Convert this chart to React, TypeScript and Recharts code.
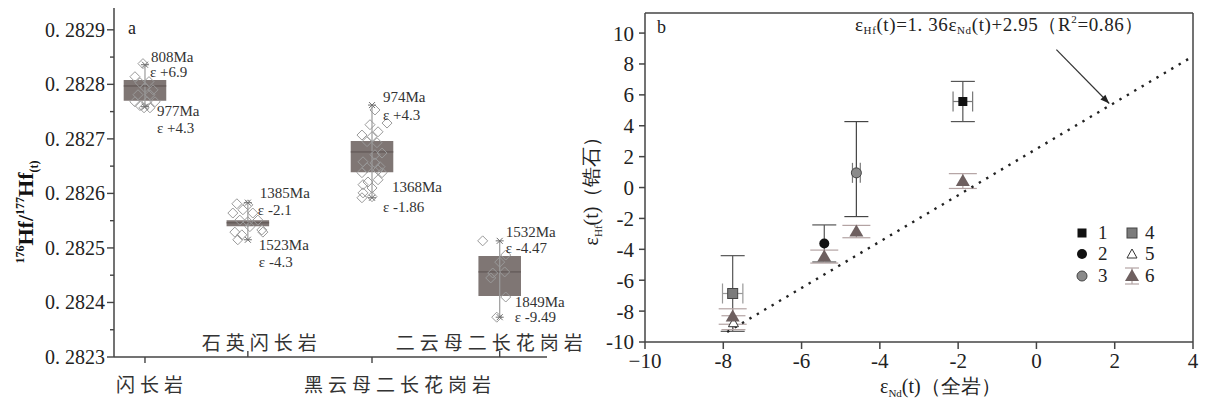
import React from "react";
import {
  ComposedChart,
  Scatter,
  XAxis,
  YAxis,
  ReferenceArea,
  ReferenceLine,
  ErrorBar,
  Legend,
  Customized,
} from "recharts";

const SERIF = "Liberation Serif, serif";
const CJK = "Noto Sans CJK SC, sans-serif";

// ---------- panel a: zircon 176Hf/177Hf(t) by rock type ----------
const rockNames = ["闪长岩", "石英闪长岩", "黑云母二长花岗岩", "二云母二长花岗岩"];
const rockPos = [1, 1.87, 2.92, 4.0];
const boxQ1 = [0.28277, 0.28254, 0.282639, 0.282412];
const boxQ3 = [0.282808, 0.282551, 0.282696, 0.282485];
const boxMedian = [0.282797, 0.282546, 0.282676, 0.282456];
const whiskerLow = [0.282759, 0.282515, 0.282592, 0.282373];
const whiskerHigh = [0.282836, 0.282583, 0.282762, 0.282513];
const ageHigh = ["808Ma", "1385Ma", "974Ma", "1532Ma"];
const epsHigh = ["ε +6.9", "ε -2.1", "ε +4.3", "ε -4.47"];
const ageLow = ["977Ma", "1523Ma", "1368Ma", "1849Ma"];
const epsLow = ["ε +4.3", "ε -4.3", "ε -1.86", "ε -9.49"];
const hfTicks = [
  0.2823, 0.28235, 0.2824, 0.28245, 0.2825, 0.28255, 0.2826, 0.28265, 0.2827,
  0.28275, 0.2828, 0.28285, 0.2829,
];

// single grains [x, 176Hf/177Hf(t)]
const dioriteGrains = [
  [0.983, 0.282838], [0.915, 0.282814], [0.958, 0.282803], [1.034, 0.282805],
  [1.0, 0.282794], [1.068, 0.28279], [0.941, 0.282781], [1.042, 0.282781],
  [1.017, 0.282768], [0.915, 0.282768], [1.085, 0.282768], [0.992, 0.282757],
  [1.042, 0.282757], [0.958, 0.282761],
];
const qtzDioriteGrains = [
  [1.777, 0.282581], [1.87, 0.282579], [1.828, 0.28257], [1.743, 0.282564],
  [1.912, 0.282564], [1.802, 0.282551], [1.955, 0.282551], [1.87, 0.282548],
  [1.887, 0.282539], [1.988, 0.282533], [1.76, 0.282529], [1.819, 0.282524],
  [1.785, 0.282515], [1.997, 0.282529],
];
const bioGraniteGrains = [
  [2.945, 0.282753], [2.903, 0.282726], [3.047, 0.282729], [2.971, 0.282713],
  [2.835, 0.282707], [2.92, 0.282704], [2.878, 0.282695], [2.962, 0.282693],
  [3.005, 0.282674], [2.945, 0.282671], [2.844, 0.282658], [2.945, 0.282656],
  [2.988, 0.282649], [2.878, 0.282647], [2.835, 0.282638], [2.971, 0.282643],
  [3.005, 0.282638], [2.886, 0.282621], [2.971, 0.282625], [2.844, 0.282616],
  [2.92, 0.28261], [2.844, 0.282601], [2.92, 0.282594], [2.835, 0.282592],
];
const twoMicaGrains = [
  [3.856, 0.282513], [4.051, 0.282487], [4.0, 0.282474], [3.941, 0.282454],
  [4.042, 0.282456], [3.924, 0.282445], [4.051, 0.28241], [3.975, 0.282373],
];

// ---------- panel b: eHf(t) vs eNd(t) ----------
const ndTicks = [-10, -8, -6, -4, -2, 0, 2, 4];
const epsHfTicks = [-10, -8, -6, -4, -2, 0, 2, 4, 6, 8, 10];
const group1 = [{ x: -1.88, y: 5.57, ey: 1.3, ex: 0.25 }];
const group2 = [{ x: -5.42, y: -3.62, ey: 1.2 }];
const group3 = [{ x: -4.6, y: 0.95, ey: [2.83, 3.32], ex: 0.1 }];
const group4 = [{ x: -7.76, y: -6.86, ey: 2.45, ex: 0.26 }];
const group5 = [{ x: -7.74, y: -8.75, ey: 0.45 }];
const group6 = [
  { x: -7.76, y: -8.35, ey: 0.5 },
  { x: -5.42, y: -4.47, ey: 0.42 },
  { x: -4.6, y: -2.85, ey: 0.4 },
  { x: -1.88, y: 0.42, ey: 0.48 },
];
const fitLine = [
  { x: -7.9, y: -9.35 },
  { x: 4, y: 8.5 },
];
const arrowLine = [
  { x: 0.51, y: 8.93 },
  { x: 1.86, y: 5.44 },
];

// pixel geometry of panel a (used by hand-drawn ticks)
const A_LEFT = 114;
const A_BOTTOM = 357;
const rockLabelShift = [7, 14, 28, -8];
const annotHigh = [[6, -3, 5, 12], [12, -5, 10, 12], [11, -3, 11, 15], [6, -4, 6, 12]];
const annotLow = [[12, 9, 12, 26], [11, 10, 11, 27], [20, -6, 11, 14], [15, -10, 15, 5]];

const Empty = () => <g />;

function HfTick(props: any) {
  const { y, payload } = props;
  const v = payload.value;
  const major = Math.round(v * 20000) % 2 === 0;
  return (
    <g>
      <line x1={A_LEFT - (major ? 7 : 4)} x2={A_LEFT} y1={y} y2={y} stroke="#444" strokeWidth={1.4} />
      {major && (
        <text x={A_LEFT - 9} y={y} dy={7} textAnchor="end" fontSize={20} fill="#222" style={{ fontFamily: SERIF }}>
          {"0. " + Math.round(v * 10000)}
        </text>
      )}
    </g>
  );
}

function RockTick(props: any) {
  const { x, index } = props;
  const below = index % 2 === 0;
  return (
    <g>
      <line x1={x} x2={x} y1={A_BOTTOM} y2={below ? A_BOTTOM + 6 : A_BOTTOM - 6} stroke="#444" strokeWidth={1.4} />
      <text
        x={x + rockLabelShift[index]}
        y={below ? 392 : 350}
        textAnchor="middle"
        fontSize={19}
        letterSpacing={5}
        fill="#333"
        style={{ fontFamily: CJK }}
      >
        {rockNames[index]}
      </text>
    </g>
  );
}

const Diamond = (p: any) => (
  <polygon
    points={`${p.cx},${p.cy - 5} ${p.cx + 5},${p.cy} ${p.cx},${p.cy + 5} ${p.cx - 5},${p.cy}`}
    fill="none"
    stroke="#9a9a9a"
    strokeWidth={1}
  />
);

const Star = (p: any) => (
  <g stroke="#6f6f6f" strokeWidth={1}>
    <line x1={p.cx - 4} x2={p.cx + 4} y1={p.cy} y2={p.cy} />
    <line x1={p.cx - 3} x2={p.cx + 3} y1={p.cy - 3} y2={p.cy + 3} />
    <line x1={p.cx - 3} x2={p.cx + 3} y1={p.cy + 3} y2={p.cy - 3} />
  </g>
);

const AnnotText = (p: any) => {
  const { i, side } = p.payload;
  const high = side === "high";
  const o = high ? annotHigh[i] : annotLow[i];
  return (
    <g style={{ fontFamily: SERIF }} fontSize={15} fill="#333">
      <text x={p.cx + o[0]} y={p.cy + o[1]}>{high ? ageHigh[i] : ageLow[i]}</text>
      <text x={p.cx + o[2]} y={p.cy + o[3]}>{high ? epsHigh[i] : epsLow[i]}</text>
    </g>
  );
};

function PanelA() {
  const grains = [dioriteGrains, qtzDioriteGrains, bioGraniteGrains, twoMicaGrains];
  const whiskerEnds = rockPos.flatMap((p, i) => [
    { x: p, y: whiskerHigh[i], i, side: "high" },
    { x: p, y: whiskerLow[i], i, side: "low" },
  ]);
  return (
    <ComposedChart width={600} height={403} margin={{ top: 8, right: 53, bottom: 16, left: 54 }}>
      <XAxis
        type="number"
        dataKey="x"
        domain={[0.738, 4.4]}
        ticks={rockPos}
        interval={0}
        tickLine={false}
        axisLine={{ stroke: "#444", strokeWidth: 1.5 }}
        tick={(p: any) => <RockTick {...p} />}
        height={30}
      />
      <YAxis
        type="number"
        dataKey="y"
        domain={[0.2823, 0.28294]}
        ticks={hfTicks}
        interval={0}
        tickLine={false}
        axisLine={{ stroke: "#444", strokeWidth: 1.5 }}
        tick={(p: any) => <HfTick {...p} />}
        width={60}
      />
      {rockPos.map((p, i) => (
        <ReferenceArea
          key={"box" + i}
          x1={p - 0.18}
          x2={p + 0.18}
          y1={boxQ1[i]}
          y2={boxQ3[i]}
          fill="#7f7674"
          fillOpacity={1}
          stroke="none"
          ifOverflow="visible"
        />
      ))}
      {rockPos.map((p, i) => (
        <ReferenceLine
          key={"wh" + i}
          segment={[
            { x: p, y: whiskerLow[i] },
            { x: p, y: whiskerHigh[i] },
          ]}
          stroke="#9b9b9b"
          strokeWidth={1.2}
          ifOverflow="visible"
        />
      ))}
      {grains.map((g, i) => (
        <Scatter
          key={"gr" + i}
          data={g.map(([x, y]) => ({ x, y }))}
          shape={Diamond}
          isAnimationActive={false}
        />
      ))}
      {rockPos.map((p, i) => (
        <ReferenceLine
          key={"md" + i}
          segment={[
            { x: p - 0.18, y: boxMedian[i] },
            { x: p + 0.18, y: boxMedian[i] },
          ]}
          stroke="#5b5250"
          strokeWidth={1}
          ifOverflow="visible"
        />
      ))}
      <Scatter data={whiskerEnds} shape={Star} isAnimationActive={false} />
      <Scatter data={whiskerEnds} shape={AnnotText} isAnimationActive={false} />
      <Customized
        component={() => (
          <g style={{ fontFamily: SERIF }}>
            <text x={128} y={34} fontSize={18} fill="#222">a</text>
            <text
              transform="translate(33,212) rotate(-90)"
              textAnchor="middle"
              fontWeight="bold"
              fontSize={22}
              fill="#111"
            >
              <tspan fontSize={12} dy={-9}>176</tspan>
              <tspan dy={9}>Hf/</tspan>
              <tspan fontSize={12} dy={-9}>177</tspan>
              <tspan dy={9}>Hf</tspan>
              <tspan fontSize={12} dy={5}>(t)</tspan>
            </text>
          </g>
        )}
      />
    </ComposedChart>
  );
}

// ---------- panel b markers ----------
const BlackSquare = (p: any) => <rect x={p.cx - 4.5} y={p.cy - 4.5} width={9} height={9} fill="#111" />;
const BlackCircle = (p: any) => <circle cx={p.cx} cy={p.cy} r={5} fill="#111" />;
const GreyCircle = (p: any) => <circle cx={p.cx} cy={p.cy} r={5} fill="#8a8a8a" stroke="#444" strokeWidth={1} />;
const GreySquare = (p: any) => (
  <rect x={p.cx - 5} y={p.cy - 5} width={10} height={10} fill="#7b7b7b" stroke="#444" strokeWidth={1} />
);
const OpenTriangle = (p: any) => (
  <polygon
    points={`${p.cx},${p.cy - 5} ${p.cx - 5},${p.cy + 4} ${p.cx + 5},${p.cy + 4}`}
    fill="#fff"
    stroke="#333"
    strokeWidth={1}
  />
);
const FilledTriangle = (p: any) => (
  <polygon
    points={`${p.cx},${p.cy - 7} ${p.cx - 7},${p.cy + 5} ${p.cx + 7},${p.cy + 5}`}
    fill="#6e6060"
  />
);
const ArrowHead = (p: any) => {
  const ang = (45.5 * Math.PI) / 180;
  const dx = Math.cos(ang);
  const dy = Math.sin(ang);
  const L = 9;
  const W = 3.5;
  const bx = p.cx - L * dx;
  const by = p.cy - L * dy;
  return (
    <polygon
      points={`${p.cx},${p.cy} ${bx - W * dy},${by + W * dx} ${bx + W * dy},${by - W * dx}`}
      fill="#222"
    />
  );
};

function LegendBox() {
  const rows = [13, 34, 56];
  return (
    <svg width={110} height={70} style={{ overflow: "visible" }}>
      <g style={{ fontFamily: SERIF }} fontSize={19} fill="#222">
        <BlackSquare cx={8} cy={rows[0]} />
        <BlackCircle cx={8} cy={rows[1]} />
        <GreyCircle cx={8} cy={rows[2]} />
        <text x={24} y={rows[0] + 6}>1</text>
        <text x={24} y={rows[1] + 6}>2</text>
        <text x={24} y={rows[2] + 6}>3</text>
        <GreySquare cx={58} cy={rows[0]} />
        <OpenTriangle cx={58} cy={rows[1]} />
        <g stroke="#b3a3a3" strokeWidth={1.2}>
          <line x1={51} x2={65} y1={rows[2] - 8} y2={rows[2] - 8} />
          <line x1={51} x2={65} y1={rows[2] + 8} y2={rows[2] + 8} />
          <line x1={58} x2={58} y1={rows[2] - 8} y2={rows[2] + 8} />
        </g>
        <FilledTriangle cx={58} cy={rows[2]} />
        <text x={71} y={rows[0] + 6}>4</text>
        <text x={71} y={rows[1] + 6}>5</text>
        <text x={71} y={rows[2] + 6}>6</text>
      </g>
    </svg>
  );
}

function PanelB() {
  const tickStyle = { fontSize: 21, fill: "#222", style: { fontFamily: SERIF } };
  return (
    <ComposedChart width={648} height={403} margin={{ top: 13, right: 15, bottom: 31, left: 35 }}>
      <XAxis
        type="number"
        dataKey="x"
        domain={[-10, 4]}
        ticks={ndTicks}
        interval={0}
        tickSize={7}
        tickMargin={4}
        tick={tickStyle}
        tickFormatter={(v: number) => (v === -10 ? "\u221210" : String(v))}
        axisLine={{ stroke: "#444", strokeWidth: 1.5 }}
        tickLine={{ stroke: "#444", strokeWidth: 1.5 }}
        height={30}
      />
      <YAxis
        type="number"
        dataKey="y"
        domain={[-10, 11.3]}
        ticks={epsHfTicks}
        interval={0}
        tickSize={6}
        tickMargin={5}
        tick={tickStyle}
        axisLine={{ stroke: "#444", strokeWidth: 1.5 }}
        tickLine={{ stroke: "#444", strokeWidth: 1.5 }}
        width={50}
      />
      <ReferenceLine y={11.3} stroke="#444" strokeWidth={1.5} ifOverflow="visible" />
      <ReferenceLine x={4} stroke="#444" strokeWidth={1.5} ifOverflow="visible" />
      <Scatter
        data={fitLine}
        line={{ stroke: "#222", strokeWidth: 2.4, strokeDasharray: "2.4 6.2", fill: "none" }}
        shape={Empty}
        isAnimationActive={false}
      />
      <Scatter
        data={arrowLine}
        line={{ stroke: "#333", strokeWidth: 1.2, fill: "none" }}
        shape={Empty}
        isAnimationActive={false}
      />
      <Scatter data={[arrowLine[1]]} shape={ArrowHead} isAnimationActive={false} />

      <Scatter data={group4} shape={GreySquare} isAnimationActive={false}>
        <ErrorBar dataKey="ey" direction="y" width={12} stroke="#555" strokeWidth={1.2} />
        <ErrorBar dataKey="ex" direction="x" width={10} stroke="#999" strokeWidth={1.2} />
      </Scatter>
      <Scatter data={group3} shape={GreyCircle} isAnimationActive={false}>
        <ErrorBar dataKey="ey" direction="y" width={12} stroke="#444" strokeWidth={1.2} />
        <ErrorBar dataKey="ex" direction="x" width={10} stroke="#777" strokeWidth={1.2} />
      </Scatter>
      <Scatter data={group2} shape={BlackCircle} isAnimationActive={false}>
        <ErrorBar dataKey="ey" direction="y" width={12} stroke="#555" strokeWidth={1.2} />
      </Scatter>
      <Scatter data={group1} shape={BlackSquare} isAnimationActive={false}>
        <ErrorBar dataKey="ey" direction="y" width={12} stroke="#555" strokeWidth={1.2} />
        <ErrorBar dataKey="ex" direction="x" width={10} stroke="#777" strokeWidth={1.2} />
      </Scatter>
      <Scatter data={group5} shape={OpenTriangle} isAnimationActive={false}>
        <ErrorBar dataKey="ey" direction="y" width={12} stroke="#b3a3a3" strokeWidth={1.2} />
      </Scatter>
      <Scatter data={group6} shape={FilledTriangle} isAnimationActive={false}>
        <ErrorBar dataKey="ey" direction="y" width={14} stroke="#b3a3a3" strokeWidth={1.2} />
      </Scatter>

      <Legend
        content={() => <LegendBox />}
        layout="horizontal"
        verticalAlign="middle"
        align="center"
        wrapperStyle={{ left: 514, top: 220, width: 110, height: 70 }}
      />
      <Customized
        component={() => (
          <g style={{ fontFamily: SERIF }} fill="#222">
            <text x={97} y={33} fontSize={18}>b</text>
            <text x={295} y={31} fontSize={19} letterSpacing={0.6}>
              <tspan>ε</tspan>
              <tspan fontSize={11} dy={3}>Hf</tspan>
              <tspan dy={-3}>(t)=1. 36ε</tspan>
              <tspan fontSize={11} dy={3}>Nd</tspan>
              <tspan dy={-3}>(t)+2.95（R</tspan>
              <tspan fontSize={11} dy={-8}>2</tspan>
              <tspan dy={8}>=0.86）</tspan>
            </text>
            <text transform="translate(38,186) rotate(-90)" textAnchor="middle" fontSize={20}>
              <tspan>ε</tspan>
              <tspan fontSize={11} dy={4}>Hf</tspan>
              <tspan dy={-4}>(t)（锆石）</tspan>
            </text>
            <text x={320} y={393} fontSize={20}>
              <tspan>ε</tspan>
              <tspan fontSize={11} dy={4}>Nd</tspan>
              <tspan dy={-4}>(t)（全岩）</tspan>
            </text>
          </g>
        )}
      />
    </ComposedChart>
  );
}

export default function App() {
  return (
    <div
      style={{
        position: "absolute",
        left: 0,
        top: 0,
        width: 1208,
        height: 403,
        background: "#fff",
        overflow: "hidden",
      }}
    >
      <div style={{ position: "absolute", left: 0, top: 0 }}>
        <PanelA />
      </div>
      <div style={{ position: "absolute", left: 560, top: 0 }}>
        <PanelB />
      </div>
    </div>
  );
}
